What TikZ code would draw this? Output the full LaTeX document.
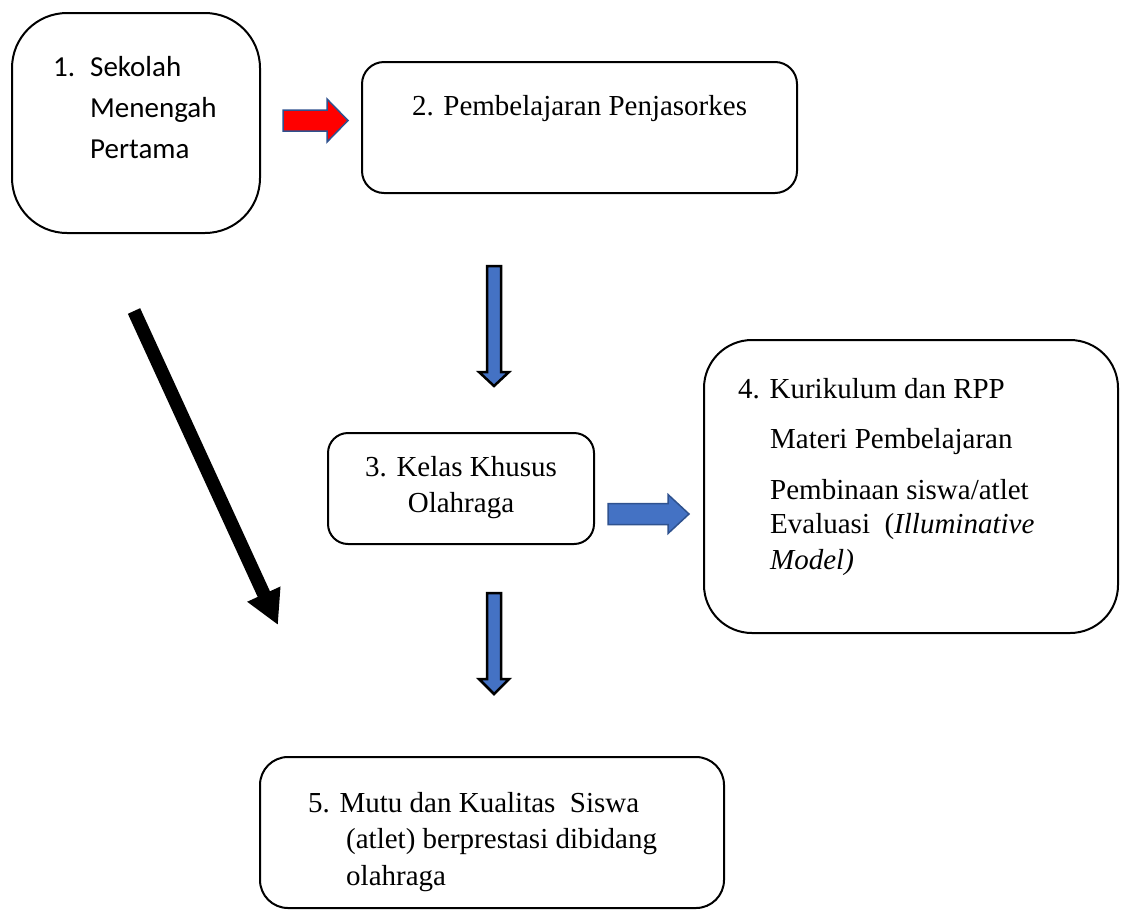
\documentclass[tikz,border=0pt]{standalone}
\usepackage{fontspec}
\setmainfont{Liberation Serif}
\newfontfamily\calibfont{Carlito}
\usetikzlibrary{arrows.meta}
\definecolor{ablue}{HTML}{4472C4}
\definecolor{dblue}{HTML}{2F528F}
\begin{document}
\begin{tikzpicture}[x=1pt,y=-1pt,
  box/.style={draw=black, line width=2pt, fill=white, inner sep=0pt, outer sep=0pt},
  txt/.style={anchor=base west, inner sep=0pt, font=\fontsize{29}{35}\selectfont},
  ctxt/.style={anchor=base, inner sep=0pt, font=\fontsize{29}{35}\selectfont},
  stxt/.style={anchor=base west, inner sep=0pt, font=\calibfont\fontsize{29}{35}\selectfont},
  redblk/.style={fill=red, draw=dblue, line width=1.5pt, line join=miter},
  rblueblk/.style={fill=ablue, draw=dblue, line width=1.5pt, line join=miter},
  dblueblk/.style={fill=ablue, draw=black, line width=2.5pt, line join=miter},
  bigarrow/.style={draw=black, line width=13.5pt, -{Triangle[length=34pt,width=34pt]}}]
\useasboundingbox (0,0) rectangle (1123,911);

% boxes
\node[box, rounded corners=55pt, minimum width=248pt, minimum height=220pt] (b1) at (136,123) {};
\node[box, rounded corners=22pt, minimum width=435pt, minimum height=131pt] (b2) at (579.5,127.5) {};
\node[box, rounded corners=20pt, minimum width=266pt, minimum height=111pt] (b3) at (461,488.5) {};
\node[box, rounded corners=48pt, minimum width=414pt, minimum height=293pt] (b4) at (911,486.5) {};
\node[box, rounded corners=28pt, minimum width=464pt, minimum height=151pt] (b5) at (492,832.5) {};

% texts
\node[stxt] (t1a) at (53,76) {1.};
\node[stxt] (t1b) at (90,76) {Sekolah};
\node[stxt] (t1c) at (90,117) {Menengah};
\node[stxt] (t1d) at (90,158) {Pertama};

\node[ctxt] (t2) at (579.5,115) {2. Pembelajaran Penjasorkes};

\node[ctxt] (t3a) at (461,476) {3. Kelas Khusus};
\node[ctxt] (t3b) at (461,512) {Olahraga};

\node[txt] (t4a) at (738,398) {4. Kurikulum dan RPP};
\node[txt] (t4b) at (770,448) {Materi Pembelajaran};
\node[txt] (t4c) at (770,499) {Pembinaan siswa/atlet};
\node[txt] (t4d) at (770,533) {Evaluasi\ \ (\textit{Illuminative}};
\node[txt] (t4e) at (770,569) {\textit{Model)}};

\node[txt] (t5a) at (308,812) {5. Mutu dan Kualitas\ \ Siswa};
\node[txt] (t5b) at (346,848) {(atlet) berprestasi dibidang};
\node[txt] (t5c) at (346,885) {olahraga};

% block arrows
\draw[redblk] (283,110) -- (327,110) -- (327,99) -- (348,120.5) -- (327,142) -- (327,131) -- (283,131) -- cycle;
\draw[rblueblk] (608,503.5) -- (668,503.5) -- (668,494.5) -- (689,514) -- (668,533.5) -- (668,524.5) -- (608,524.5) -- cycle;
\draw[dblueblk] (487,266) -- (501,266) -- (501,372) -- (509,372) -- (494,386) -- (479,372) -- (487,372) -- cycle;
\draw[dblueblk] (487,593) -- (501,593) -- (501,679) -- (509,679) -- (494,694) -- (479,679) -- (487,679) -- cycle;

% black diagonal arrow
\coordinate (bkS) at (134,311);
\coordinate (bkE) at (278,625);
\draw[bigarrow] (bkS) -- (bkE);
\end{tikzpicture}
\end{document}
